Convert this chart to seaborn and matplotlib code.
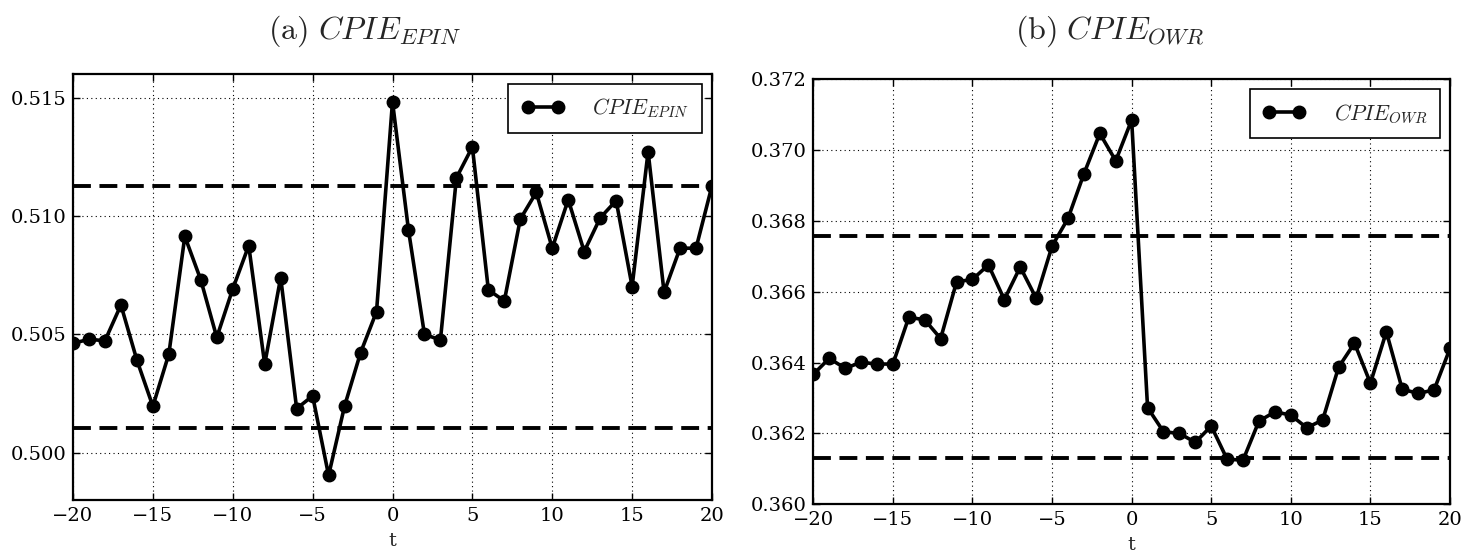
import numpy as np
import pandas as pd
import seaborn as sns
import matplotlib
matplotlib.use("Agg")
import matplotlib.pyplot as plt
from matplotlib.ticker import MultipleLocator, FormatStrFormatter

# ---- data ----
t = list(range(-20, 21))
cpie_epin = [0.50462, 0.50479, 0.50473, 0.50624, 0.50391, 0.50196, 0.50417, 0.50914,
             0.50730, 0.50487, 0.50692, 0.50875, 0.50374, 0.50740, 0.50186, 0.50240,
             0.49904, 0.50197, 0.50422, 0.50596, 0.51483, 0.50941, 0.50500, 0.50476,
             0.51161, 0.51292, 0.50688, 0.50641, 0.50987, 0.51100, 0.50864, 0.51069,
             0.50850, 0.50992, 0.51065, 0.50702, 0.51272, 0.50678, 0.50864, 0.50864,
             0.51128]
cpie_owr = [0.36367, 0.36412, 0.36384, 0.36401, 0.36396, 0.36396, 0.36528, 0.36521,
            0.36468, 0.36628, 0.36635, 0.36676, 0.36578, 0.36670, 0.36582, 0.36729,
            0.36807, 0.36933, 0.37047, 0.36970, 0.37085, 0.36273, 0.36205, 0.36200,
            0.36175, 0.36221, 0.36127, 0.36125, 0.36235, 0.36261, 0.36252, 0.36216,
            0.36238, 0.36387, 0.36455, 0.36342, 0.36487, 0.36325, 0.36313, 0.36323,
            0.36440]
epin_limits = [0.51128, 0.50104]
owr_limits = [0.36758, 0.36130]
titles = [r"$\mathrm{(a)}\ CPIE_{EPIN}$", r"$\mathrm{(b)}\ CPIE_{OWR}$"]
labels = [r"$CPIE_{EPIN}$", r"$CPIE_{OWR}$"]
xlabel = "t"

sns.set_style("white")
plt.rcParams["mathtext.fontset"] = "cm"
plt.rcParams["font.family"] = ["DejaVu Serif"]
plt.rcParams["axes.unicode_minus"] = True

fig = plt.figure(figsize=(14.72, 5.58), dpi=100)
ax1 = fig.add_axes([73/1472, 1-500/558, (712-73)/1472, (500-74)/558])
ax2 = fig.add_axes([813.3/1472, 1-504.3/558, (1450-813.3)/1472, (504.3-79.3)/558])

panels = [
    (ax1, cpie_epin, epin_limits, labels[0], (0.498, 0.516), 0.005),
    (ax2, cpie_owr, owr_limits, labels[1], (0.360, 0.372), 0.002),
]

FS = 14
for ax, vals, lims, lab, ylim, ystep in panels:
    df = pd.DataFrame({"t": t, "v": vals})
    sns.lineplot(data=df, x="t", y="v", ax=ax, color="black", marker="o",
                 markersize=9, linewidth=2.6, markeredgecolor="black",
                 markeredgewidth=1, label=lab)
    for l in lims:
        ax.axhline(l, color="black", lw=2.8, linestyle=(0, (4.6, 2.2)), zorder=1)
    ax.set_xlim(-20, 20)
    ax.set_ylim(*ylim)
    ax.xaxis.set_major_locator(MultipleLocator(5))
    ax.yaxis.set_major_locator(MultipleLocator(ystep))
    ax.yaxis.set_major_formatter(FormatStrFormatter("%.3f"))
    ax.grid(True, color="black", linestyle=(0, (1, 3)), linewidth=0.8)
    ax.tick_params(direction="in", length=5, width=1, top=True, right=True,
                   bottom=True, left=True, labelsize=FS, colors="black")
    ax.tick_params(axis="x", pad=5)
    ax.tick_params(axis="y", pad=5)
    for s in ax.spines.values():
        s.set_color("black")
        s.set_linewidth(1.6)
    ax.set_xlabel(xlabel, fontsize=FS, labelpad=5)
    ax.set_ylabel("")
    leg = ax.legend(loc="upper right", fontsize=15.5, frameon=True, fancybox=False,
                    edgecolor="black", framealpha=1, handlelength=2.0, borderpad=0.6,
                    handletextpad=1.3, numpoints=2, borderaxespad=0.45)
    leg.get_frame().set_linewidth(1.2)

fig.text(365/1472, 1-31/558, titles[0], ha="center", va="center", fontsize=23)
fig.text(1110/1472, 1-31/558, titles[1], ha="center", va="center", fontsize=23)

fig.savefig("out.png", dpi=100)
